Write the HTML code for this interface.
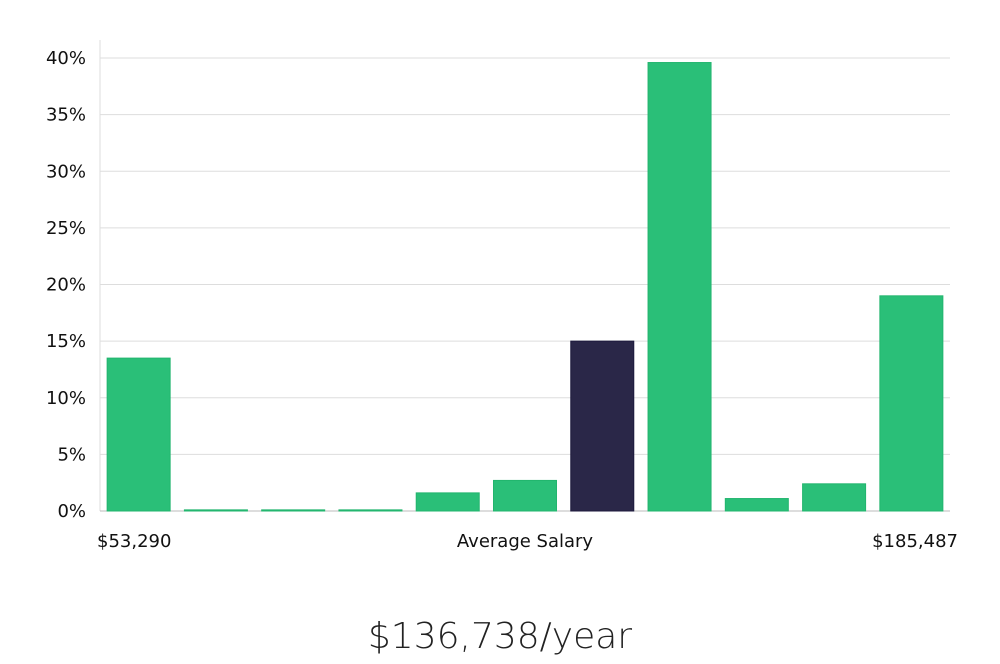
<!DOCTYPE html>
<html><head><meta charset="utf-8"><style>
body{margin:0;background:#fff;width:1000px;height:660px;overflow:hidden;font-family:"DejaVu Sans","Liberation Sans",sans-serif;}
svg text{font-family:"DejaVu Sans","Liberation Sans",sans-serif;}
</style></head><body>
<svg id="chart" width="1000" height="660" xmlns="http://www.w3.org/2000/svg">
<g id="grid"></g>
<g id="bars"></g>
<g id="ylabels"></g>
<text x="97" y="547" font-size="18" fill="#111">$53,290</text>
<text x="525" y="547" font-size="18" fill="#111" text-anchor="middle">Average Salary</text>
<text x="958" y="547" font-size="18" fill="#111" text-anchor="end">$185,487</text>
<text x="500" y="648" font-size="36" font-weight="300" fill="#222" text-anchor="middle" font-family="Liberation Sans, sans-serif">$136,738/year</text>
</svg>
<script>
const categories=["b1","b2","b3","b4","b5","b6","b7","b8","b9","b10","b11"];
const values=[13.5,0.1,0.1,0.1,1.6,2.7,15.0,39.6,1.1,2.4,19.0];
const highlightIndex=6;
const yTicks=[0,5,10,15,20,25,30,35,40];
const yTickLabels=["0%","5%","10%","15%","20%","25%","30%","35%","40%"];
const NS="http://www.w3.org/2000/svg";
const x0=100,x1=950,y0=511,yTop=58,yMax=40;
const y=v=>y0-(v/yMax)*(y0-yTop);
const slot=(x1-x0)/categories.length;
const xs=i=>x0+i*slot;
const grid=document.getElementById('grid'),bars=document.getElementById('bars'),yl=document.getElementById('ylabels');
const ax=document.createElementNS(NS,'line');


ax.setAttribute('x1',x0);ax.setAttribute('x2',x0);ax.setAttribute('y1',40);ax.setAttribute('y2',y0);ax.setAttribute('stroke','#ddd');
grid.appendChild(ax);
yTicks.forEach((t,i)=>{
 const l=document.createElementNS(NS,'line');
 
 
 l.setAttribute('x1',x0);l.setAttribute('x2',x1);l.setAttribute('y1',y(t));l.setAttribute('y2',y(t));
 l.setAttribute('stroke',t===0?'#bbb':'#ddd');
 grid.appendChild(l);
 const tx=document.createElementNS(NS,'text');
 
 
 tx.setAttribute('x',86);tx.setAttribute('y',y(t)+6);tx.setAttribute('text-anchor','end');
 tx.setAttribute('font-size','18');tx.setAttribute('fill','#111');
 tx.textContent=yTickLabels[i];
 yl.appendChild(tx);
});
values.forEach((v,i)=>{
 const r=document.createElementNS(NS,'rect');
 
 
 const bw=63;
 r.setAttribute('x',xs(i)+(slot-bw)/2);r.setAttribute('width',bw);
 r.setAttribute('y',y(v));r.setAttribute('height',Math.max(1,y0-y(v)));
 r.setAttribute('fill',i===highlightIndex?'#2a2748':'#2abf78');
 r.setAttribute('stroke',i===highlightIndex?'#1d1a3d':'#22b56e');
 bars.appendChild(r);
});
</script>
</body></html>
